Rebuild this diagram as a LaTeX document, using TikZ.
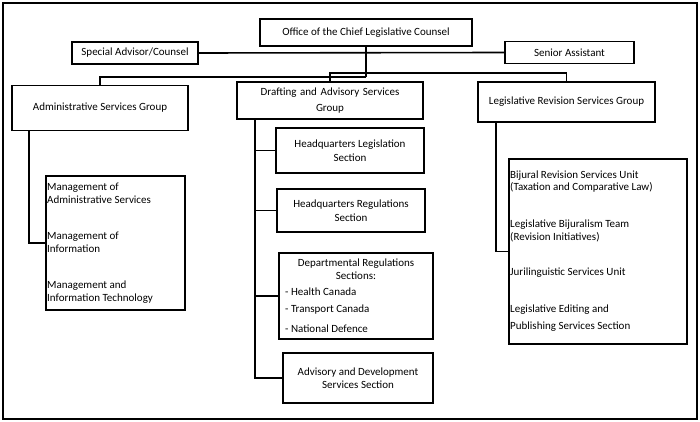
\documentclass[tikz,border=0pt]{standalone}
\usepackage{fontspec}
\setmainfont{Carlito}
\tikzset{
  box/.style={draw, line width=1.6pt, inner sep=0pt, align=center, font=\fontsize{11}{13.5}\selectfont},
  item/.style={anchor=west, inner sep=0pt, align=left, font=\fontsize{11}{12.8}\selectfont},
  link/.style={line width=1.6pt},
}
\begin{document}
\begin{tikzpicture}[x=1pt, y=-1pt]
  \useasboundingbox (0,0) rectangle (700,422);
  \draw[line width=1.6pt] (3,3) rectangle (697,419);
  % top level
  \node[box, minimum width=212pt, minimum height=27pt] (office) at (366,32.5) {Office of the Chief Legislative Counsel};
  \node[box, minimum width=126pt, minimum height=22pt] (special) at (135,53) {Special Advisor/Counsel};
  \node[box, minimum width=129pt, minimum height=22pt] (senior) at (569.5,52.5) {Senior Assistant};
  % groups
  \node[box, minimum width=176pt, minimum height=45pt] (admin) at (100,108) {Administrative Services Group};
  \node[box, minimum width=186pt, minimum height=37pt, text width=180pt] (draft) at (330,100.5) {Drafting and Advisory Services\\[2pt] Group};
  \node[box, minimum width=177pt, minimum height=40pt] (legrev) at (566.5,102) {Legislative Revision Services Group};
  % drafting sections
  \node[box, minimum width=148pt, minimum height=45pt] (hqleg) at (350,150.5) {Headquarters Legislation\\ Section};
  \node[box, minimum width=148pt, minimum height=43pt] (hqreg) at (351,210.5) {Headquarters Regulations\\ Section};
  \node[box, minimum width=154pt, minimum height=86pt] (dept) at (356,296) {};
  \node[box, draw=none] (depttitle) at (356,269) {Departmental Regulations\\ Sections:};
  \node[item] (health) at (285,292) {- Health Canada};
  \node[item] (transport) at (285,310) {- Transport Canada};
  \node[item] (defence) at (285,329) {- National Defence};
  \node[box, minimum width=150pt, minimum height=50pt] (advis) at (358,378) {Advisory and Development\\ Services Section};
  % admin units
  \node[box, minimum width=139pt, minimum height=134pt] (mgmt) at (115.5,243) {};
  \node[item] (mgmtadm) at (47,193.5) {Management of\\ Administrative Services};
  \node[item] (mgmtinfo) at (47,242.5) {Management of\\ Information};
  \node[item] (mgmtit) at (47,292) {Management and\\ Information Technology};
  % revision units
  \node[box, minimum width=178pt, minimum height=185pt] (units) at (598,251.5) {};
  \node[item] (bijural) at (510,181.5) {Bijural Revision Services Unit\\ (Taxation and Comparative Law)};
  \node[item] (bijteam) at (510,231) {Legislative Bijuralism Team\\ (Revision Initiatives)};
  \node[item] (juri) at (510,273) {Jurilinguistic Services Unit};
  \node[item, font=\fontsize{11}{17}\selectfont] (editing) at (510,318.5) {Legislative Editing and\\ Publishing Services Section};
  % connectors
  \coordinate (j1) at (office.south |- 0,77);
  \draw[link] (special.east) -- (senior.west);
  \draw[link] (office.south) -- (j1);
  \draw[link] (j1) -| (admin.north);
  \draw[link] (draft.north) |- (0,73 -| legrev.north) -- (legrev.north);
  \coordinate (dtop) at (255,0 |- draft.south);
  \coordinate (atop) at (29,0 |- admin.south);
  \coordinate (ltop) at (496,0 |- legrev.south);
  \draw[link] (dtop) |- (advis.west);
  \draw[link] (dtop |- hqleg.west) -- (hqleg.west);
  \draw[link] (dtop |- hqreg.west) -- (hqreg.west);
  \draw[link] (dtop |- dept.west) -- (dept.west);
  \draw[link] (atop) |- (mgmt.west);
  \draw[link] (ltop) |- (units.west);
\end{tikzpicture}
\end{document}
